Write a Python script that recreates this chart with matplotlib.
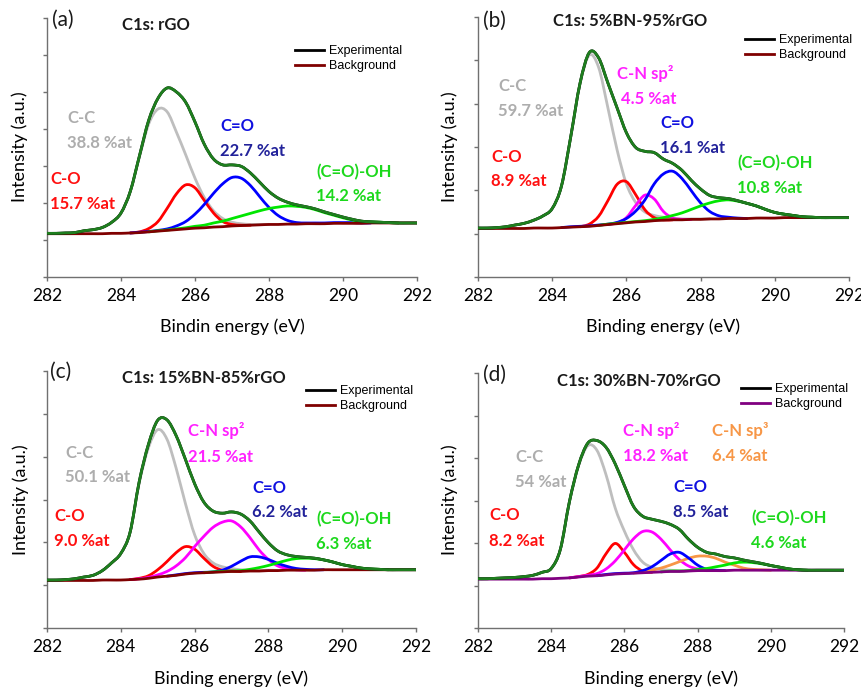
import numpy as np
import matplotlib
matplotlib.use('Agg')
import matplotlib.pyplot as plt
from matplotlib.lines import Line2D
from matplotlib.path import Path
from matplotlib.patches import PathPatch

plt.rcParams['font.family'] = ['Lato', 'DejaVu Sans']

W, H = 861, 692

# binding energy grid (eV), 0.25 eV steps from 282 to 292
energy = np.linspace(282, 292, 41)

# ---- (a) rGO : background + component heights above background ----
a_bg = [1.17, 1.17, 1.17, 1.17, 1.17, 1.17, 1.17, 1.18, 1.18, 1.19, 1.20, 1.22, 1.24, 1.26,
        1.28, 1.30, 1.32, 1.33, 1.35, 1.36, 1.38, 1.39, 1.40, 1.41, 1.42, 1.42, 1.43, 1.43,
        1.44, 1.44, 1.44, 1.45, 1.45, 1.45, 1.45, 1.46, 1.46, 1.46, 1.46, 1.46, 1.46]
a_cc = [0.01, 0.01, 0.02, 0.03, 0.08, 0.11, 0.17, 0.30, 0.55, 1.12, 2.05, 2.92, 3.30, 3.20,
        2.63, 2.00, 1.35, 0.82, 0.44, 0.22, 0.10, 0.05, 0.02, 0.01, 0, 0, 0, 0,
        0, 0, 0, 0, 0, 0, 0, 0, 0, 0, 0, 0, 0]
a_co = [0, 0, 0, 0, 0, 0, 0, 0, 0, 0, 0.02, 0.09, 0.26, 0.60,
        0.97, 1.19, 1.09, 0.74, 0.38, 0.14, 0.04, 0.01, 0, 0, 0, 0, 0, 0,
        0, 0, 0, 0, 0, 0, 0, 0, 0, 0, 0, 0, 0]
a_cdo = [0, 0, 0, 0, 0, 0, 0, 0, 0, 0, 0.01, 0.01, 0.02, 0.04,
         0.10, 0.20, 0.38, 0.63, 0.91, 1.16, 1.31, 1.28, 1.07, 0.76, 0.46, 0.24, 0.10, 0.04,
         0.02, 0.02, 0.02, 0.02, 0.02, 0.02, 0.01, 0, 0, 0, 0, 0, 0]
a_cooh = [0, 0, 0, 0, 0, 0, 0, 0, 0, 0, 0, 0, 0.01, 0.01,
          0.02, 0.03, 0.05, 0.07, 0.11, 0.15, 0.20, 0.26, 0.32, 0.38, 0.43, 0.47, 0.49, 0.48,
          0.44, 0.38, 0.30, 0.22, 0.15, 0.09, 0.05, 0.03, 0.02, 0.01, 0, 0, 0]

# ---- (b) 5%BN-95%rGO ----
b_bg = [1.12, 1.12, 1.12, 1.12, 1.12, 1.12, 1.13, 1.13, 1.13, 1.14, 1.15, 1.16, 1.17, 1.19,
        1.21, 1.23, 1.25, 1.27, 1.28, 1.30, 1.31, 1.32, 1.32, 1.33, 1.33, 1.34, 1.34, 1.35,
        1.35, 1.35, 1.36, 1.36, 1.36, 1.37, 1.37, 1.37, 1.37, 1.37, 1.37, 1.37, 1.37]
b_cc = [0.01, 0.01, 0.02, 0.04, 0.08, 0.12, 0.18, 0.28, 0.45, 0.96, 2.08, 3.30, 3.95, 3.65,
        2.70, 1.70, 0.90, 0.45, 0.22, 0.12, 0.07, 0.04, 0.02, 0.01, 0.01, 0, 0, 0,
        0, 0, 0, 0, 0, 0, 0, 0, 0, 0, 0, 0, 0]
b_co = [0, 0, 0, 0, 0, 0, 0, 0, 0, 0, 0, 0, 0.05, 0.21,
        0.55, 0.91, 0.95, 0.63, 0.27, 0.07, 0.01, 0, 0, 0, 0, 0, 0, 0,
        0, 0, 0, 0, 0, 0, 0, 0, 0, 0, 0, 0, 0]
b_cn2 = [0, 0, 0, 0, 0, 0, 0, 0, 0, 0, 0, 0, 0, 0,
         0, 0.02, 0.12, 0.38, 0.61, 0.50, 0.20, 0.04, 0.01, 0, 0, 0, 0, 0,
         0, 0, 0, 0, 0, 0, 0, 0, 0, 0, 0, 0, 0]
b_cdo = [0, 0, 0, 0, 0, 0, 0, 0, 0, 0, 0.01, 0.01, 0.01, 0.01,
         0.01, 0.03, 0.10, 0.25, 0.50, 0.85, 1.07, 1.12, 0.95, 0.66, 0.38, 0.17, 0.07, 0.03,
         0.01, 0, 0, 0, 0, 0, 0, 0, 0, 0, 0, 0, 0]
b_cooh = [0, 0, 0, 0, 0, 0, 0, 0, 0, 0, 0, 0, 0, 0,
          0.01, 0.01, 0.01, 0.01, 0.02, 0.03, 0.06, 0.10, 0.16, 0.23, 0.31, 0.37, 0.42, 0.43,
          0.40, 0.35, 0.28, 0.20, 0.13, 0.08, 0.05, 0.02, 0.01, 0, 0, 0, 0]

# ---- (c) 15%BN-85%rGO ----
c_bg = [1.11, 1.11, 1.11, 1.11, 1.11, 1.11, 1.12, 1.12, 1.12, 1.13, 1.14, 1.16, 1.19, 1.21,
        1.23, 1.26, 1.28, 1.29, 1.30, 1.31, 1.32, 1.32, 1.33, 1.33, 1.34, 1.34, 1.35, 1.35,
        1.35, 1.35, 1.36, 1.36, 1.36, 1.36, 1.36, 1.36, 1.36, 1.36, 1.36, 1.36, 1.36]
c_cc = [0.01, 0.01, 0.02, 0.04, 0.08, 0.12, 0.22, 0.40, 0.62, 1.10, 2.25, 3.05, 3.44, 3.20,
        2.50, 1.65, 0.90, 0.45, 0.22, 0.12, 0.07, 0.04, 0.02, 0.01, 0.01, 0, 0, 0,
        0, 0, 0, 0, 0, 0, 0, 0, 0, 0, 0, 0, 0]
c_co = [0, 0, 0, 0, 0, 0, 0, 0, 0, 0, 0.02, 0.06, 0.17, 0.34,
        0.53, 0.64, 0.56, 0.34, 0.14, 0.04, 0.01, 0, 0, 0, 0, 0, 0, 0,
        0, 0, 0, 0, 0, 0, 0, 0, 0, 0, 0, 0, 0]
c_cn2 = [0, 0, 0, 0, 0, 0, 0, 0, 0, 0, 0.01, 0.02, 0.05, 0.11,
         0.22, 0.38, 0.62, 0.85, 1.05, 1.16, 1.18, 1.04, 0.78, 0.49, 0.26, 0.11, 0.04, 0.01,
         0, 0, 0, 0, 0, 0, 0, 0, 0, 0, 0, 0, 0]
c_cdo = [0, 0, 0, 0, 0, 0, 0, 0, 0, 0, 0, 0, 0, 0,
         0.01, 0.01, 0.01, 0.01, 0.01, 0.04, 0.12, 0.24, 0.33, 0.33, 0.26, 0.17, 0.09, 0.04,
         0.02, 0.01, 0, 0, 0, 0, 0, 0, 0, 0, 0, 0, 0]
c_cooh = [0, 0, 0, 0, 0, 0, 0, 0, 0, 0, 0, 0, 0, 0,
          0, 0, 0, 0, 0.01, 0.01, 0.01, 0.02, 0.04, 0.08, 0.12, 0.18, 0.23, 0.27,
          0.28, 0.27, 0.23, 0.18, 0.12, 0.08, 0.04, 0.02, 0.01, 0, 0, 0, 0]

# ---- (d) 30%BN-70%rGO ----
d_bg = [1.15, 1.15, 1.15, 1.15, 1.15, 1.15, 1.15, 1.16, 1.16, 1.17, 1.18, 1.20, 1.22, 1.23,
        1.25, 1.27, 1.28, 1.29, 1.30, 1.31, 1.32, 1.33, 1.33, 1.34, 1.35, 1.35, 1.35, 1.35,
        1.36, 1.36, 1.36, 1.36, 1.36, 1.36, 1.36, 1.36, 1.36, 1.36, 1.36, 1.36, 1.36]
d_cc = [0.01, 0.01, 0.02, 0.03, 0.04, 0.06, 0.09, 0.15, 0.24, 0.68, 1.80, 2.62, 3.07, 2.95,
        2.35, 1.55, 1.00, 0.55, 0.25, 0.12, 0.06, 0.03, 0.02, 0.01, 0.01, 0, 0, 0,
        0, 0, 0, 0, 0, 0, 0, 0, 0, 0, 0, 0, 0]
d_co = [0, 0, 0, 0, 0, 0, 0, 0, 0, 0, 0, 0.01, 0.04, 0.18,
        0.50, 0.72, 0.50, 0.20, 0.04, 0, 0, 0, 0, 0, 0, 0, 0, 0,
        0, 0, 0, 0, 0, 0, 0, 0, 0, 0, 0, 0, 0]
d_cn2 = [0, 0, 0, 0, 0, 0, 0, 0, 0, 0, 0, 0.01, 0.02, 0.05,
         0.14, 0.31, 0.56, 0.81, 0.97, 0.95, 0.77, 0.51, 0.28, 0.12, 0.04, 0.01, 0, 0,
         0, 0, 0, 0, 0, 0, 0, 0, 0, 0, 0, 0, 0]
d_cn3 = [0, 0, 0, 0, 0, 0, 0, 0, 0, 0, 0, 0, 0, 0,
         0, 0, 0, 0, 0.02, 0.05, 0.09, 0.15, 0.23, 0.30, 0.34, 0.34, 0.29, 0.20,
         0.12, 0.05, 0.02, 0.01, 0, 0, 0, 0, 0, 0, 0, 0, 0]
d_cdo = [0, 0, 0, 0, 0, 0, 0, 0, 0, 0, 0, 0, 0, 0,
         0.01, 0.01, 0.01, 0.01, 0.05, 0.13, 0.27, 0.41, 0.45, 0.31, 0.13, 0.03, 0.01, 0,
         0, 0, 0, 0, 0, 0, 0, 0, 0, 0, 0, 0, 0]
d_cooh = [0, 0, 0, 0, 0, 0, 0, 0, 0, 0, 0, 0, 0, 0,
          0, 0, 0, 0, 0, 0, 0, 0.01, 0.01, 0.01, 0.03, 0.05, 0.09, 0.13,
          0.17, 0.19, 0.18, 0.15, 0.11, 0.07, 0.03, 0.01, 0, 0, 0, 0, 0]

ENV = '#1E7E1E'
GRAY = '#BEBEBE'
RED = '#FF0000'
BLUE = '#0000FF'
LGREEN = '#00E600'
MAG = '#FF00FF'
ORANGE = '#F79646'
DKRED = '#7F0000'
PURPLE = '#800080'


def px_axes(x0, y0, x1, y1):
    return fig.add_axes([x0 / W, 1 - y1 / H, (x1 - x0) / W, (y1 - y0) / H])


def put(px, py, s, color, size=12, weight='bold'):
    fig.text(px / W, 1 - py / H, s, color=color, fontsize=size,
             fontweight=weight, ha='left', va='center')


def smooth_line(ax, x, y, color, lw, z):
    # smoothed line through the points (like a spreadsheet "smoothed line")
    pts = np.column_stack([x, y])
    n = len(pts)
    verts = [pts[0]]
    codes = [Path.MOVETO]
    for i in range(n - 1):
        p0 = pts[max(i - 1, 0)]
        p1 = pts[i]
        p2 = pts[i + 1]
        p3 = pts[min(i + 2, n - 1)]
        verts += [p1 + (p2 - p0) / 6, p2 - (p3 - p1) / 6, p2]
        codes += [Path.CURVE4] * 3
    ax.add_patch(PathPatch(Path(verts, codes), fill=False, edgecolor=color,
                           lw=lw, zorder=z, capstyle='round', joinstyle='round'))


def draw_panel(ax, bg, comps, bg_color, ymax, xlabel, lab_top_px, ylab_px, leg_px):
    bg = np.array(bg)
    total = bg.copy()
    for vals, col in comps:
        v = np.array(vals)
        total = total + v
        nz = np.nonzero(v)[0]
        i0 = max(nz[0] - 1, 0)
        i1 = min(nz[-1] + 2, len(v))
        smooth_line(ax, energy[i0:i1], (bg + v)[i0:i1], col, 2, 2)
    smooth_line(ax, energy, bg, bg_color, 2, 3)
    smooth_line(ax, energy, total, 'black', 2, 4)
    smooth_line(ax, energy, total, ENV, 2, 5)

    ax.set_xlim(282, 292)
    ax.set_ylim(0, ymax)
    ax.set_xticks(np.arange(282, 293, 2))
    ax.set_yticks(np.arange(0, ymax + 1, 1))
    ax.set_yticklabels([])
    for s in ['top', 'right']:
        ax.spines[s].set_visible(False)
    for s in ['left', 'bottom']:
        ax.spines[s].set_color('#707070')
        ax.spines[s].set_linewidth(1)
    ax.tick_params(direction='out', length=3, width=1, color='#707070',
                   labelsize=12.5, pad=5)
    ax.set_xlabel(xlabel, fontsize=13)
    ax.xaxis.set_label_coords(0.5, -(lab_top_px[0] - lab_top_px[1]) / lab_top_px[2])
    ax.set_ylabel('Intensity (a.u.)', fontsize=13)
    ax.yaxis.set_label_coords(ylab_px[0] / W, 1 - ylab_px[1] / H, transform=fig.transFigure)

    handles = [Line2D([], [], color='black', lw=2), Line2D([], [], color=bg_color, lw=2)]
    ax.legend(handles, ['Experimental', 'Background'], loc='upper left',
              bbox_to_anchor=(leg_px[0] / W, 1 - leg_px[1] / H),
              bbox_transform=fig.transFigure, frameon=False,
              prop={'family': 'Liberation Sans', 'size': 9},
              handlelength=2.3, handletextpad=0.45, labelspacing=0.25,
              borderpad=0, borderaxespad=0)


fig = plt.figure(figsize=(W / 100, H / 100), dpi=100)

# (a)
ax_a = px_axes(47, 18, 417, 277)
draw_panel(ax_a, a_bg, [(a_cc, GRAY), (a_co, RED), (a_cdo, BLUE), (a_cooh, LGREEN)],
           DKRED, 7, 'Bindin energy (eV)', (318, 277, 259), (28, 147), (295, 45))
put(52, 20, '(a)', '#1a1a1a', 15, 'normal')
put(122, 25, 'C1s: rGO', '#1a1a1a')
put(67, 118, 'C-C', '#ADADAD')
put(67, 143, '38.8 %at', '#ADADAD')
put(220, 126, 'C=O', '#1010E0')
put(220, 151, '22.7 %at', '#22229A')
put(50, 179, 'C-O', '#FF1010')
put(50, 204, '15.7 %at', '#FF1010')
put(316, 172, '(C=O)-OH', '#1CD81C')
put(316, 196, '14.2 %at', '#1CD81C')

# (b)
ax_b = px_axes(478, 17, 849, 277)
draw_panel(ax_b, b_bg, [(b_cc, GRAY), (b_co, RED), (b_cn2, MAG), (b_cdo, BLUE), (b_cooh, LGREEN)],
           DKRED, 6, 'Binding energy (eV)', (318, 277, 260), (458, 147), (745, 34))
put(483, 21, '(b)', '#1a1a1a', 15, 'normal')
put(553, 21, 'C1s: 5%BN-95%rGO', '#1a1a1a')
put(498, 86, 'C-C', '#ADADAD')
put(498, 111, '59.7 %at', '#ADADAD')
put(617, 74, 'C-N sp²', '#FF22FF')
put(621, 99, '4.5 %at', '#FF22FF')
put(660, 123, 'C=O', '#1010E0')
put(660, 148, '16.1 %at', '#22229A')
put(491, 157, 'C-O', '#FF1010')
put(491, 181, '8.9 %at', '#FF1010')
put(737, 163, '(C=O)-OH', '#1CD81C')
put(737, 188, '10.8 %at', '#1CD81C')

# (c)
ax_c = px_axes(47, 371, 416, 628)
draw_panel(ax_c, c_bg, [(c_cc, GRAY), (c_co, RED), (c_cn2, MAG), (c_cdo, BLUE), (c_cooh, LGREEN)],
           DKRED, 6, 'Binding energy (eV)', (670, 628, 257), (29, 500), (306, 385))
put(50, 372, '(c)', '#1a1a1a', 15, 'normal')
put(122, 378, 'C1s: 15%BN-85%rGO', '#1a1a1a')
put(65, 453, 'C-C', '#ADADAD')
put(65, 477, '50.1 %at', '#ADADAD')
put(188, 431, 'C-N sp²', '#FF22FF')
put(188, 457, '21.5 %at', '#FF22FF')
put(252, 488, 'C=O', '#1010E0')
put(252, 512, '6.2 %at', '#22229A')
put(54, 516, 'C-O', '#FF1010')
put(54, 541, '9.0 %at', '#FF1010')
put(316, 519, '(C=O)-OH', '#1CD81C')
put(316, 544, '6.3 %at', '#1CD81C')

# (d)
ax_d = px_axes(478, 373, 844, 628)
draw_panel(ax_d, d_bg, [(d_cc, GRAY), (d_co, RED), (d_cn2, MAG), (d_cn3, ORANGE),
                        (d_cdo, BLUE), (d_cooh, LGREEN)],
           PURPLE, 6, 'Binding energy (eV)', (670, 628, 255), (458, 500), (741, 383))
put(483, 375, '(d)', '#1a1a1a', 15, 'normal')
put(557, 381, 'C1s: 30%BN-70%rGO', '#1a1a1a')
put(515, 457, 'C-C', '#ADADAD')
put(515, 482, '54 %at', '#ADADAD')
put(623, 431, 'C-N sp²', '#FF22FF')
put(623, 456, '18.2 %at', '#FF22FF')
put(712, 431, 'C-N sp³', ORANGE)
put(712, 456, '6.4 %at', ORANGE)
put(673, 487, 'C=O', '#1010E0')
put(673, 512, '8.5 %at', '#22229A')
put(489, 515, 'C-O', '#FF1010')
put(489, 541, '8.2 %at', '#FF1010')
put(751, 518, '(C=O)-OH', '#1CD81C')
put(751, 543, '4.6 %at', '#1CD81C')

fig.savefig('out.png', dpi=100)
